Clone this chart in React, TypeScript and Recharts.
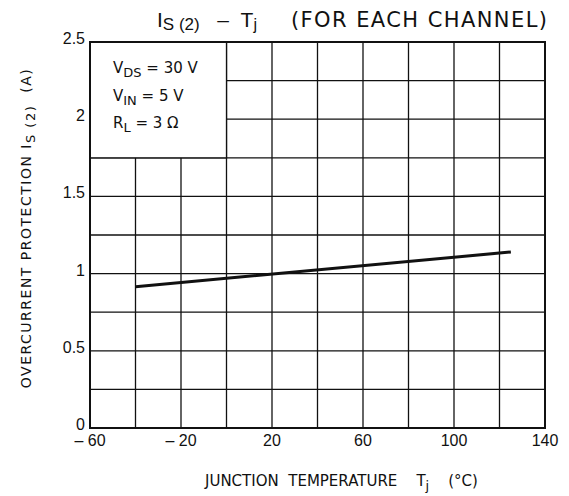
import { LineChart, Line, XAxis, YAxis, CartesianGrid, ReferenceArea } from "recharts";

// Is(2) vs Tj
const temps = [-40, 125];
const current = [0.915, 1.14];

const xTicks = [-60, -40, -20, 0, 20, 40, 60, 80, 100, 120, 140];
const xLabels = [-60, -20, 20, 60, 100, 140];
const yTicks = [0, 0.25, 0.5, 0.75, 1, 1.25, 1.5, 1.75, 2, 2.25, 2.5];
const yLabels = [0, 0.5, 1, 1.5, 2, 2.5];

const data = temps.map((t, i) => ({ t, is: current[i] }));

const FONT = "'Liberation Sans', Arial, sans-serif";
const WIDE = "'DejaVu Sans', 'Liberation Sans', sans-serif";
const INK = "#111";
const sp = (n: number) => "\u00A0".repeat(n);

const XTick = (props: any) => {
  const { x, y, payload } = props;
  const v = payload.value;
  if (!xLabels.includes(v)) return <g />;
  const txt = v < 0 ? "\u2013" + sp(1) + Math.abs(v) : String(v);
  return (
    <text x={x} y={y + 16} textAnchor="middle" fontSize={16} fontFamily={FONT} fill={INK}>
      {txt}
    </text>
  );
};

const YTick = (props: any) => {
  const { x, y, payload } = props;
  const v = payload.value;
  if (!yLabels.includes(v)) return <g />;
  return (
    <text x={x - 3} y={y + 2} textAnchor="end" fontSize={16} fontFamily={FONT} fill={INK}>
      {String(v)}
    </text>
  );
};

export default function App() {
  return (
    <div style={{ position: "absolute", left: 0, top: 0, width: 569, height: 496, background: "#fff" }}>
      <LineChart
        width={569}
        height={496}
        data={data}
        margin={{ top: 42, right: 24, bottom: 38, left: 50 }}
      >
        <CartesianGrid stroke={INK} strokeWidth={1.3} />
        <XAxis
          type="number"
          dataKey="t"
          domain={[-60, 140]}
          ticks={xTicks}
          interval={0}
          axisLine={false}
          tickLine={false}
          tickSize={0}
          height={30}
          tick={<XTick />}
        />
        <YAxis
          type="number"
          domain={[0, 2.5]}
          ticks={yTicks}
          interval={0}
          axisLine={false}
          tickLine={false}
          tickSize={0}
          width={40}
          tick={<YTick />}
        />
        <ReferenceArea
          x1={-60}
          x2={0}
          y1={1.75}
          y2={2.5}
          fill="#fff"
          fillOpacity={1}
          stroke={INK}
          strokeWidth={1.3}
          ifOverflow="visible"
        />
        <ReferenceArea
          x1={-60}
          x2={140}
          y1={0}
          y2={2.5}
          fill="none"
          fillOpacity={0}
          stroke={INK}
          strokeWidth={2}
          ifOverflow="visible"
        />
        <Line
          type="linear"
          dataKey="is"
          stroke={INK}
          strokeWidth={3}
          dot={false}
          isAnimationActive={false}
        />
      </LineChart>
      <svg
        width={569}
        height={496}
        style={{ position: "absolute", left: 0, top: 0, pointerEvents: "none" }}
      >
        <g fontFamily={WIDE} fill={INK}>
          {/* title */}
          <text x={157} y={27} fontSize={21} fontFamily={FONT}>
            I
            <tspan fontSize={17} dy={3}>{"S" + sp(1) + "(2)"}</tspan>
            <tspan dy={-3}>{sp(3) + "\u2013" + sp(2) + "T"}</tspan>
            <tspan fontSize={16} dy={3}>j</tspan>
          </text>
          <text x={291} y={27} fontSize={21} textLength={256} lengthAdjust="spacing">
            {"(FOR" + sp(1) + "EACH" + sp(1) + "CHANNEL)"}
          </text>

          {/* conditions box */}
          <text x={113} y={73} fontSize={15}>
            V<tspan fontSize={13} dy={4}>DS</tspan>
            <tspan dy={-4}>{sp(1) + "=" + sp(1) + "30" + sp(1) + "V"}</tspan>
          </text>
          <text x={113} y={101} fontSize={15}>
            V<tspan fontSize={13} dy={4}>IN</tspan>
            <tspan dy={-4}>{sp(1) + "=" + sp(1) + "5" + sp(1) + "V"}</tspan>
          </text>
          <text x={113} y={128} fontSize={15}>
            R<tspan fontSize={13} dy={4}>L</tspan>
            <tspan dy={-4}>{sp(1) + "=" + sp(1) + "3" + sp(1) + "\u03A9"}</tspan>
          </text>

          {/* y axis title */}
          <text
            transform="translate(31, 228) rotate(-90)"
            textAnchor="middle"
            fontSize={14}
            letterSpacing={1.5}
          >
            {"OVERCURRENT" + sp(1) + "PROTECTION" + sp(1) + "I"}
            <tspan fontSize={13} dy={4}>{"S" + sp(1) + "(2)"}</tspan>
            <tspan dy={-4}>{sp(2) + "(A)"}</tspan>
          </text>

          {/* x axis title */}
          <text x={205} y={486} fontSize={15}>
            {"JUNCTION" + sp(2) + "TEMPERATURE" + sp(4) + "T"}
            <tspan fontSize={13} dy={4}>j</tspan>
            <tspan dy={-4}>{sp(4) + "(\u00B0C)"}</tspan>
          </text>
        </g>
      </svg>
    </div>
  );
}
